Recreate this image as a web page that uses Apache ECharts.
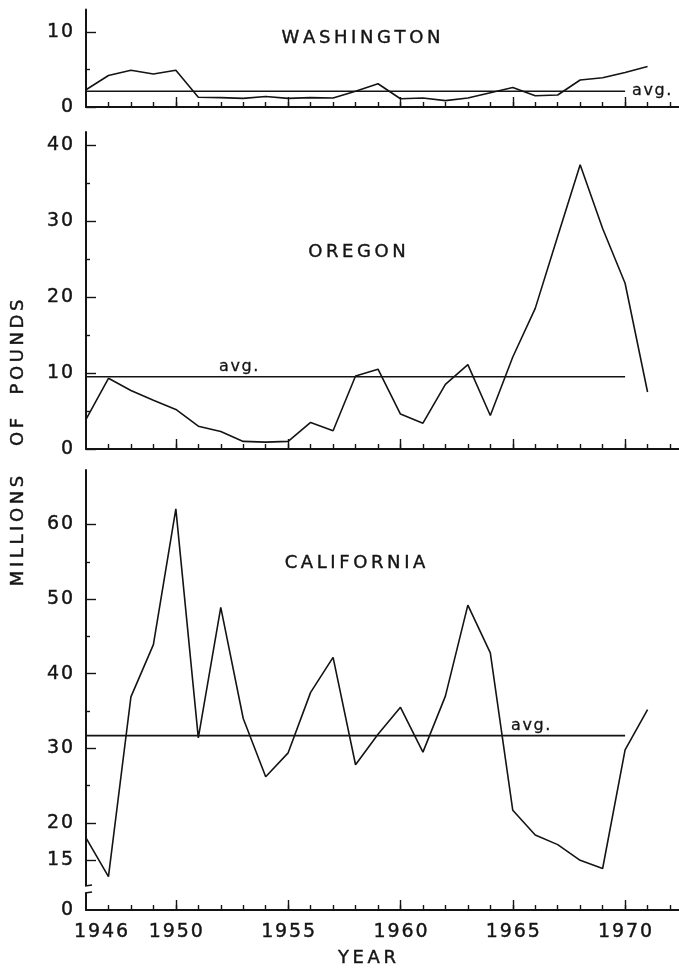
<!DOCTYPE html>
<html><head><meta charset="utf-8">
<script src="https://cdn.jsdelivr.net/npm/echarts@6/dist/echarts.min.js"></script>
<style>html,body{margin:0;padding:0;background:#fff}#c{width:679px;height:970px}</style>
</head><body><div id="c"></div>
<script>
// ---- data ----
const years = [1946,1947,1948,1949,1950,1951,1952,1953,1954,1955,1956,1957,1958,1959,1960,1961,1962,1963,1964,1965,1966,1967,1968,1969,1970,1971];
const washington = [2.3,4.2,4.9,4.4,4.9,1.3,1.25,1.15,1.4,1.15,1.25,1.2,2.1,3.1,1.1,1.2,0.85,1.2,1.9,2.6,1.5,1.6,3.6,3.9,4.6,5.4];
const oregon = [3.9,9.3,7.7,6.4,5.2,3.0,2.3,1.0,0.9,1.0,3.5,2.4,9.6,10.5,4.6,3.4,8.5,11.1,4.4,12.1,18.5,28.0,37.4,29.0,21.8,7.5];
const california = [18.0,12.8,36.9,43.9,62.1,31.4,48.9,34.0,26.2,29.4,37.5,42.2,27.8,31.9,35.5,29.5,37.0,49.2,42.8,21.7,18.4,17.1,15.0,13.9,29.8,35.2];
const avgWashington = 2.1, avgOregon = 9.5, avgCalifornia = 31.7;
const avgStart = 1946, avgEnd = 1970;
const xLabelYears = [1946,1950,1955,1960,1965,1970];
const xMajorYears = [1950,1955,1960,1965,1970];
const xMinorYears = [1947,1948,1949,1950,1951,1952,1953,1954,1955,1956,1957,1958,1959,1960,1961,1962,1963,1964,1965,1966,1967,1968,1969,1970,1971,1972];
const waLabels = [0,10], waMinor = [5];
const orLabels = [0,10,20,30,40], orMinor = [5,15,25,35];
const caLabels = [15,20,30,40,50,60], caMinor = [25,35,45,55];
const titles = ['WASHINGTON','OREGON','CALIFORNIA'];
const avgText = 'avg.';

// ---- layout ----
const FONT = 'DejaVu Sans';
const INK = '#141414';
const sp = s => String(s).split('').join('\u2009');
const hp = s => String(s).split('').join('\u200A');
const X_MIN = 1946, X_MAX = 1972.4;
const grids = [
  {left:86, width:594, top:9.5, height:97.5},
  {left:86, width:594, top:132, height:317},
  {left:86, width:594, top:470, height:440}
];
const yRanges = [[0,13],[0,41.7],[8.34,67.3]];
const yLabelSets = [waLabels, orLabels, caLabels];
const yMinorSets = [waMinor, orMinor, caMinor];
const numStyle = {color:INK, fontSize:19, fontFamily:FONT, textBorderColor:INK, textBorderWidth:0.4};

const xAxis = [], yAxis = [], series = [];
grids.forEach((g,i)=>{
  xAxis.push({
    gridIndex:i, type:'value', min:X_MIN, max:X_MAX, interval:1,
    axisLine:{onZero:false, lineStyle:{color:INK,width:2}},
    axisTick:{inside:true,length:5,customValues:xMinorYears,lineStyle:{color:INK,width:1.4}},
    axisLabel: i===2 ? Object.assign({
      customValues:xLabelYears, margin:13,
      formatter: v => v===1946 ? '{a|'+hp(v)+'}' : hp(v),
      rich:{a:Object.assign({padding:[0,0,0,30]}, numStyle)}
    }, numStyle) : {show:false},
    splitLine:{show:false}
  });
  xAxis.push({
    gridIndex:i, type:'value', min:X_MIN, max:X_MAX, position:'bottom',
    axisLine:{show:false},
    axisTick:{inside:true,length:10,customValues:xMajorYears,lineStyle:{color:INK,width:1.4}},
    axisLabel:{show:false}, splitLine:{show:false}
  });
  const [ymin,ymax] = yRanges[i];
  const labVals = i===2 ? [ymin].concat(caLabels) : yLabelSets[i];
  yAxis.push({
    gridIndex:i, type:'value', min:ymin, max:ymax, position:'left',
    axisLine:{onZero:false, lineStyle:{color:INK,width:2}},
    axisTick:{inside:true,length:10,customValues:yLabelSets[i],lineStyle:{color:INK,width:1.4}},
    axisLabel:Object.assign({customValues:labVals, margin:13,
      formatter: v => (i===2 && v<10) ? '0' : hp(v)}, numStyle),
    splitLine:{show:false}
  });
  yAxis.push({
    gridIndex:i, type:'value', min:ymin, max:ymax, position:'left',
    axisLine:{show:false},
    axisTick:{inside:true,length:4,customValues:yMinorSets[i],lineStyle:{color:INK,width:1.4}},
    axisLabel:{show:false}, splitLine:{show:false}
  });
});

const dataSets = [washington, oregon, california];
const avgs = [avgWashington, avgOregon, avgCalifornia];
dataSets.forEach((vals,i)=>{
  series.push({
    type:'line', xAxisIndex:2*i, yAxisIndex:2*i, showSymbol:false, symbol:'none',
    data: years.map((y,k)=>[y, vals[k]]),
    lineStyle:{color:INK,width:1.6}, z:3, silent:true
  });
  series.push({
    type:'line', xAxisIndex:2*i, yAxisIndex:2*i, showSymbol:false, symbol:'none',
    data: [[avgStart,avgs[i]],[avgEnd,avgs[i]]], lineStyle:{color:INK,width:1.6}, z:2, silent:true
  });
});

const titlePos = [[361,38],[357,252],[355,563]];
const txt = (text, x, y, extra) => Object.assign({type:'text', x, y, z:10,
  style:{text, fill:INK, stroke:INK, lineWidth:0.4, font:'18px "'+FONT+'"', align:'center', verticalAlign:'middle'}}, extra||{});
const graphic = [];
titles.forEach((t,i)=>graphic.push(txt(sp(t), titlePos[i][0], titlePos[i][1])));
[['MILLIONS',531],['OF',432],['POUNDS',347]].forEach(([w,y])=>graphic.push(txt(sp(w),18,y,{rotation:Math.PI/2})));
graphic.push(txt(sp('YEAR'),367,958));
// axis break on California y axis
graphic.push({type:'rect', shape:{x:81,y:886,width:10,height:7}, style:{fill:'#fff'}, z:20});
graphic.push({type:'line', shape:{x1:85,y1:886,x2:92,y2:885}, style:{stroke:INK,lineWidth:1.6}, z:21});
graphic.push({type:'line', shape:{x1:85,y1:893,x2:92,y2:892}, style:{stroke:INK,lineWidth:1.6}, z:21});

const chart = echarts.init(document.getElementById('c'), null, {renderer:'canvas'});
chart.setOption({animation:false, backgroundColor:'#fff', grid: grids, xAxis, yAxis, series, graphic});

// "avg." labels placed through the axes' scales
const avgLabelAnchor = [[avgEnd, 'left', 'middle', 7, 0], [1952.8, 'center', 'bottom', 0, -2], [1965.8, 'center', 'bottom', 0, -2]];
const extraG = graphic.slice();
avgLabelAnchor.forEach(([yr, al, va, dx, dy], i)=>{
  const p = chart.convertToPixel({xAxisIndex:2*i, yAxisIndex:2*i}, [yr, avgs[i]]);
  extraG.push({type:'text', x:p[0]+dx, y:p[1]+dy, z:10,
    style:{text:hp(avgText), fill:INK, stroke:INK, lineWidth:0.3, font:'16px "'+FONT+'"', align:al, verticalAlign:va}});
});
chart.setOption({graphic: extraG}, {replaceMerge:['graphic']});
</script></body></html>
